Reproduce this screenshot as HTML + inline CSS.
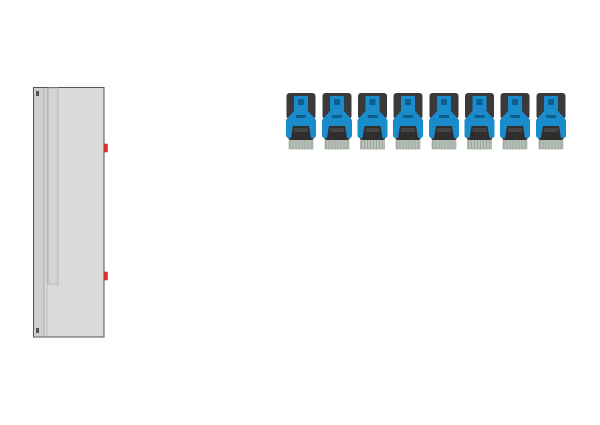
<!DOCTYPE html>
<html><head><style>body{margin:0;background:#fff}svg{display:block}</style></head><body>
<svg width="600" height="425" xmlns="http://www.w3.org/2000/svg">
<defs>
<g id="a">
<rect x="0.5" y="0" width="29" height="26" rx="3" fill="#3a3a3a"/>
<rect x="3" y="46" width="24" height="10" fill="#b8c2b8" stroke="#8a948a" stroke-width="0.5"/>
<path d="M4 47V56M7 47V56M10 47V56M13 47V56M16 47V56M19 47V56M22 47V56M25 47V56" stroke="#8a948a" stroke-width="0.6"/>
<rect x="2" y="30" width="26" height="17" rx="3" fill="#2e2e2e"/>
<path d="M8 3H22V18L30 27V42Q30 45 27 45H25L23 33H7L5 45H3Q0 45 0 42V27L8 18Z" fill="#1a8ccc"/>
<rect x="12" y="6" width="6" height="6" fill="#0b5e8e"/>
<rect x="10" y="22" width="10" height="3" fill="#0b5e8e"/>
<rect x="8" y="35" width="14" height="4" fill="#444"/>
</g>
</defs>
<rect x="33.5" y="87.5" width="70.5" height="249.5" fill="#dadada" stroke="#555" stroke-width="1"/>
<rect x="34" y="88" width="10" height="248" fill="#cfcfcf"/>
<line x1="44" y1="88" x2="44" y2="336" stroke="#aaa"/>
<line x1="47" y1="88" x2="47" y2="336" stroke="#bbb"/>
<rect x="48" y="88" width="10" height="196" fill="#d4d4d4" stroke="#aaa" stroke-width="0.8"/>
<rect x="36" y="91" width="3" height="5" fill="#555"/>
<rect x="36" y="328" width="3" height="5" fill="#555"/>
<rect x="104" y="144" width="3.5" height="8" fill="#d33" stroke="#a22" stroke-width="0.5"/>
<rect x="104" y="272" width="3.5" height="8" fill="#d33" stroke="#a22" stroke-width="0.5"/>
<use href="#a" x="286" y="93"/>
<use href="#a" x="322" y="93"/>
<use href="#a" x="357.5" y="93"/>
<use href="#a" x="393" y="93"/>
<use href="#a" x="429" y="93"/>
<use href="#a" x="464.5" y="93"/>
<use href="#a" x="500" y="93"/>
<use href="#a" x="536" y="93"/>
</svg>
</body></html>
